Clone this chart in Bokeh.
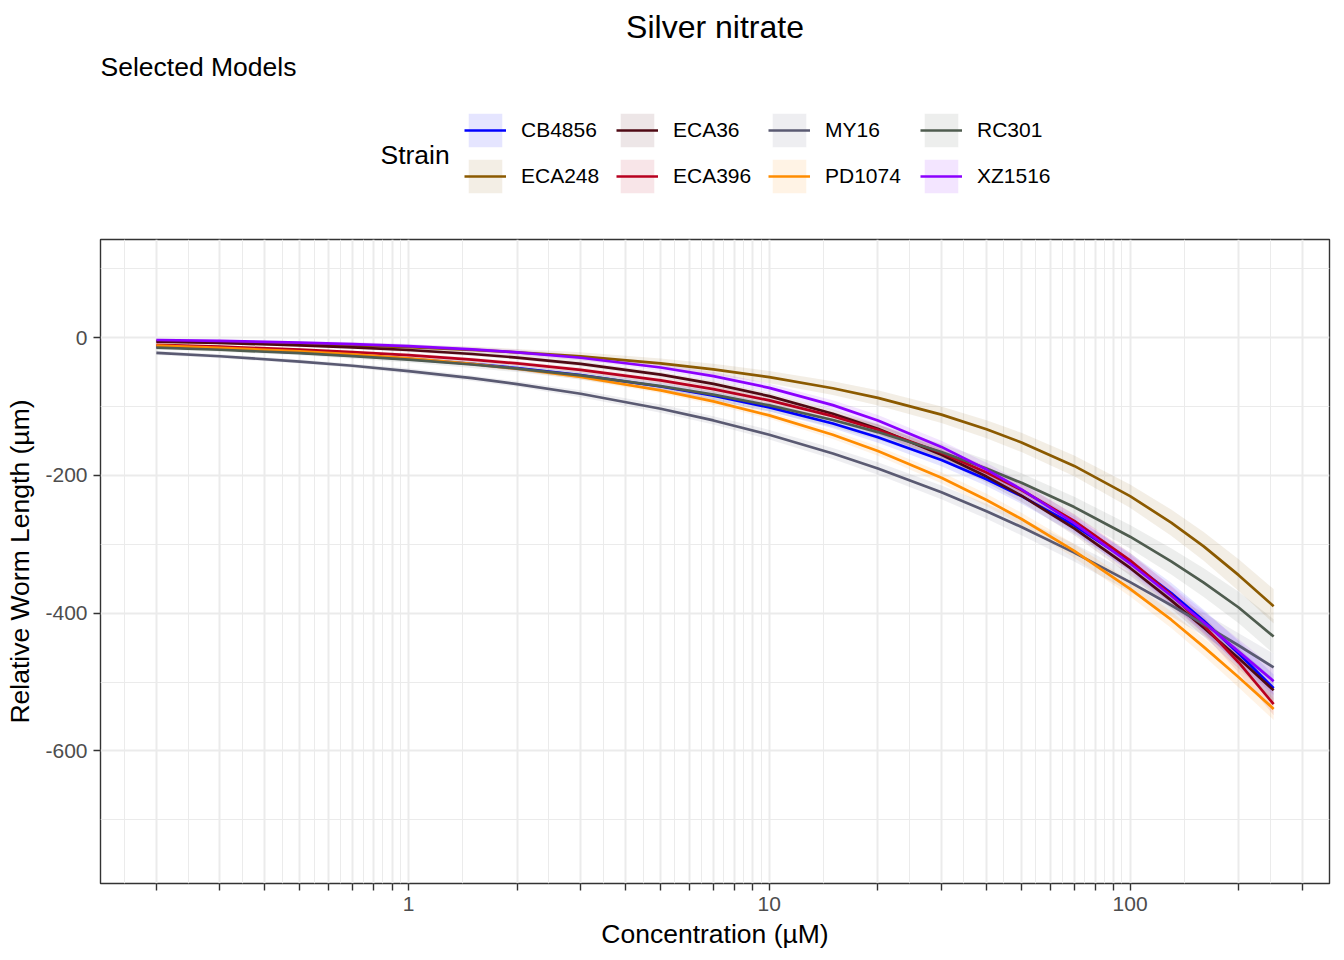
import numpy as np
from bokeh.plotting import figure
from bokeh.layouts import column
from bokeh.models import (FixedTicker, CustomJSTickFormatter, Label, Legend,
                          LegendItem, Range1d, ColumnDataSource, Plot, VArea, Line)
from bokeh.embed import file_html
from bokeh.resources import INLINE

# ---------------- data ----------------
concentration = [0.2, 0.3, 0.5, 0.7, 1, 1.5, 2, 3, 5, 7, 10, 15, 20, 30, 40, 50,
                 70, 100, 130, 160, 200, 250]

strains = ["CB4856", "ECA248", "ECA36", "ECA396", "MY16", "PD1074", "RC301", "XZ1516"]
strain_colors = ["#0000FF", "#8B5A00", "#4F0A14", "#B8001F",
                 "#5A5A72", "#FF8C00", "#4F5C4F", "#8B00FF"]

cb4856 = [-13.4, -16.5, -21.6, -25.7, -30.9, -38.1, -44.2, -54.5, -70.9, -84.3, -101.3,
          -124.7, -144.5, -177.6, -205.5, -230.0, -272.4, -325.6, -370.9, -411.0, -458.6, -509.0]
eca248 = [-5.1, -6.6, -9.0, -11.1, -13.9, -17.8, -21.3, -27.3, -37.4, -46.0, -57.3,
          -73.4, -87.4, -111.8, -133.1, -152.2, -186.2, -230.1, -268.5, -303.0, -344.8, -390.0]
eca36 = [-5.9, -7.8, -11.1, -14.0, -17.9, -23.7, -28.9, -38.0, -53.7, -67.2, -84.9,
         -110.4, -132.4, -169.9, -201.7, -229.5, -277.0, -334.4, -381.4, -421.1, -465.5, -512.0]
eca396 = [-10.4, -13.1, -17.3, -20.9, -25.5, -31.9, -37.4, -46.8, -62.1, -74.8, -91.1,
          -114.0, -133.6, -167.0, -195.7, -221.2, -266.0, -323.4, -373.1, -417.8, -471.6, -532.2]
my16 = [-22.2, -27.0, -34.7, -40.8, -48.5, -58.8, -67.4, -81.5, -103.2, -120.2, -140.9,
        -168.1, -190.0, -224.6, -252.0, -275.0, -312.1, -355.0, -388.5, -416.3, -447.0, -478.7]
pd1074 = [-11.6, -14.8, -20.0, -24.4, -30.1, -38.2, -45.2, -57.1, -76.6, -92.6, -112.9,
          -141.0, -164.6, -203.5, -235.7, -263.3, -309.6, -364.8, -409.5, -449.0, -493.0, -539.0]
rc301 = [-14.4, -17.6, -22.6, -26.7, -31.9, -39.0, -44.9, -54.8, -70.3, -82.8, -98.4,
         -119.6, -137.1, -166.1, -190.1, -210.8, -246.0, -289.0, -324.8, -355.7, -391.8, -434.0]
xz1516 = [-3.4, -4.7, -7.1, -9.3, -12.3, -17.0, -21.3, -29.2, -43.3, -55.8, -72.9,
          -98.0, -120.2, -158.6, -191.5, -220.3, -269.3, -327.9, -374.7, -413.2, -455.8, -498.8]

# confidence band half-widths
ci_cb4856 = [2, 2, 2, 3, 3, 3, 4, 4, 5, 6, 6, 7, 8, 9, 10, 11, 12, 13, 15, 16, 18, 20]
ci_eca248 = [3, 3, 3, 4, 4, 5, 5, 6, 7, 8, 9, 10, 11, 12, 13, 14, 15, 17, 19, 21, 23, 25]
ci_eca36 = [2, 2, 2, 2, 3, 3, 3, 4, 4, 5, 5, 6, 7, 8, 9, 9, 10, 11, 12, 13, 15, 16]
ci_eca396 = [2, 2, 2, 2, 3, 3, 3, 4, 4, 5, 5, 6, 7, 8, 9, 9, 10, 11, 12, 13, 15, 16]
ci_my16 = [3, 3, 3, 3, 4, 4, 4, 5, 6, 6, 7, 8, 9, 10, 11, 12, 13, 14, 16, 17, 18, 20]
ci_pd1074 = [2, 2, 2, 2, 3, 3, 3, 4, 4, 5, 5, 6, 7, 8, 9, 9, 10, 11, 12, 13, 15, 16]
ci_rc301 = [3, 3, 3, 4, 4, 5, 5, 6, 7, 8, 9, 10, 11, 12, 13, 14, 15, 17, 19, 21, 23, 25]
ci_xz1516 = [2, 2, 2, 3, 3, 3, 4, 4, 5, 6, 6, 7, 8, 9, 10, 11, 12, 13, 15, 16, 18, 20]

series = [cb4856, eca248, eca36, eca396, my16, pd1074, rc301, xz1516]
bands = [ci_cb4856, ci_eca248, ci_eca36, ci_eca396, ci_my16, ci_pd1074, ci_rc301, ci_xz1516]

x_major_ticks = [0.2, 0.3, 0.4, 0.5, 0.6, 0.7, 0.8, 0.9,
                 1, 2, 3, 4, 5, 6, 7, 8, 9,
                 10, 20, 30, 40, 50, 60, 70, 80, 90,
                 100, 200, 300]
x_labelled_ticks = [1, 10, 100]
y_major_ticks = [-600, -400, -200, 0]
y_limits = [-750, 100]

title_text = "Silver nitrate"
subtitle_text = "Selected Models"
x_title = "Concentration (µM)"
y_title = "Relative Worm Length (µm)"
legend_title = "Strain"

FONT = "Liberation Sans"
W, H = 1344, 960
HEADER_H = 215
BORDER_L, BORDER_R = 100, 15

# ---------------- scales ----------------
lx = np.log10([min(concentration), max(concentration)])
pad = 0.05 * (lx[1] - lx[0])
x_range = Range1d(10 ** (lx[0] - pad), 10 ** (lx[1] + pad))
ypad = 0.05 * (y_limits[1] - y_limits[0])
y_range = Range1d(y_limits[0] - ypad, y_limits[1] + ypad)

lt = np.log10(x_major_ticks)
lt_ext = np.concatenate([[lt[0] - (lt[1] - lt[0])], lt, [lt[-1] + (lt[-1] - lt[-2])]])
x_minor_ticks = list(10 ** ((lt_ext[:-1] + lt_ext[1:]) / 2))
yt = np.array(y_major_ticks, dtype=float)
yt_ext = np.concatenate([[yt[0] - (yt[1] - yt[0])], yt, [yt[-1] + (yt[-1] - yt[-2])]])
y_minor_ticks = list((yt_ext[:-1] + yt_ext[1:]) / 2)

# ---------------- main panel ----------------
p = figure(width=W, height=H - HEADER_H, x_axis_type="log",
           x_range=x_range, y_range=y_range,
           output_backend="svg", toolbar_location=None,
           min_border_left=BORDER_L, min_border_right=BORDER_R,
           min_border_top=24, min_border_bottom=77)
p.background_fill_color = "white"
p.border_fill_color = "white"
p.outline_line_color = "#333333"
p.outline_line_width = 1.4

p.xaxis.ticker = FixedTicker(ticks=x_major_ticks, minor_ticks=x_minor_ticks)
p.xaxis.formatter = CustomJSTickFormatter(
    args=dict(shown=x_labelled_ticks),
    code="return shown.includes(tick) ? String(tick) : '';")
p.yaxis.ticker = FixedTicker(ticks=y_major_ticks, minor_ticks=y_minor_ticks)
p.yaxis.formatter = CustomJSTickFormatter(code="return String(tick);")

for ax in (p.xaxis[0], p.yaxis[0]):
    ax.axis_line_color = None
    ax.major_tick_line_color = "#333333"
    ax.major_tick_line_width = 1.4
    ax.major_tick_out = 7
    ax.major_tick_in = 0
    ax.minor_tick_line_color = None
    ax.major_label_text_font = FONT
    ax.major_label_text_font_size = "21px"
    ax.major_label_text_color = "#4D4D4D"
    ax.axis_label_text_font = FONT
    ax.axis_label_text_font_size = "26.5px"
    ax.axis_label_text_font_style = "normal"
    ax.axis_label_text_color = "black"

p.xaxis.axis_label = x_title
p.yaxis.axis_label = y_title
p.xaxis.major_label_standoff = 6
p.xaxis.axis_label_standoff = 5
p.yaxis.major_label_standoff = 6
p.yaxis.axis_label_standoff = 7

for g in (p.xgrid[0], p.ygrid[0]):
    g.grid_line_color = "#EBEBEB"
    g.grid_line_width = 2
    g.minor_grid_line_color = "#EBEBEB"
    g.minor_grid_line_width = 1

for vals, ci, col in zip(series, bands, strain_colors):
    v = np.array(vals, dtype=float)
    c = np.array(ci, dtype=float)
    src = ColumnDataSource(dict(x=concentration, lo=v - c, hi=v + c))
    p.varea(x="x", y1="lo", y2="hi", source=src, fill_color=col, fill_alpha=0.1)

for vals, col in zip(series, strain_colors):
    src = ColumnDataSource(dict(x=concentration, y=vals))
    p.line(x="x", y="y", source=src, line_color=col, line_width=2.7, line_join="round")

# ---------------- header: title, subtitle, legend ----------------
# header data coordinates equal page pixels (frame aligned with the panel)
header = Plot(width=W, height=HEADER_H,
              x_range=Range1d(BORDER_L, W - BORDER_R), y_range=Range1d(HEADER_H, 0),
              min_border_left=BORDER_L, min_border_right=BORDER_R,
              min_border_top=0, min_border_bottom=0,
              toolbar_location=None, output_backend="svg", title=None,
              outline_line_color=None, background_fill_color="white",
              border_fill_color="white")

items = []
for s, col in zip(strains, strain_colors):
    # legend proxies placed outside the visible frame
    a = header.add_glyph(ColumnDataSource(dict(x=[0, 1], y1=[0, 0], y2=[1, 1])),
                         VArea(x="x", y1="y1", y2="y2", fill_color=col, fill_alpha=0.1))
    l = header.add_glyph(ColumnDataSource(dict(x=[0, 1], y=[0, 0])),
                         Line(x="x", y="y", line_color=col, line_width=2.7))
    items.append(LegendItem(label=s, renderers=[a, l]))

legend = Legend(items=items, location=(464 - BORDER_L, 18), orientation="vertical", nrows=2,
                glyph_width=42, glyph_height=42, label_standoff=15, spacing=4,
                label_width=91, label_height=42, padding=0, margin=0,
                border_line_color=None, background_fill_alpha=0,
                label_text_font=FONT, label_text_font_size="21px",
                label_text_color="black")
header.add_layout(legend)

header.add_layout(Label(x=714.5, y=26, text=title_text, text_align="center",
                        text_baseline="alphabetic", text_font=FONT,
                        text_font_size="32px", text_color="black"))
header.add_layout(Label(x=100, y=66, text=subtitle_text, text_align="left",
                        text_baseline="alphabetic", text_font=FONT,
                        text_font_size="26.5px", text_color="black"))
header.add_layout(Label(x=380, y=154, text=legend_title, text_align="left",
                        text_baseline="alphabetic", text_font=FONT,
                        text_font_size="26.5px", text_color="black"))

layout = column(header, p, spacing=0)
open("out.html", "w").write(file_html(layout, INLINE))
